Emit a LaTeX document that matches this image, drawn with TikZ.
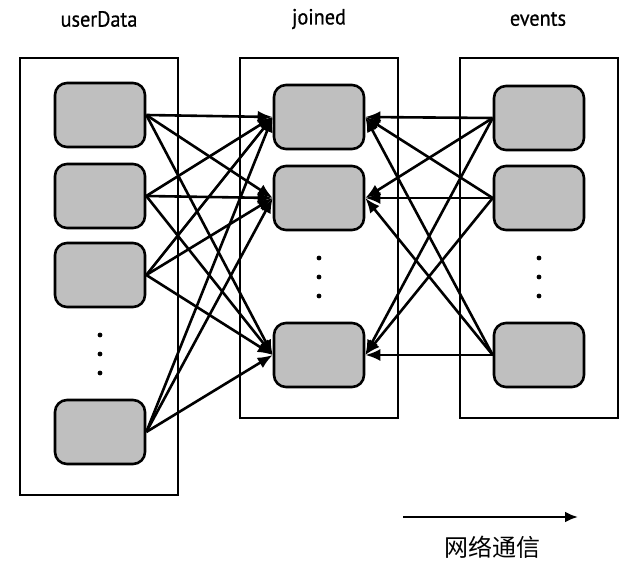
\documentclass[tikz,border=0pt]{standalone}
\usepackage{fontspec}
\setmainfont{PT Sans}[FakeStretch=0.92, FakeBold=0.7]
\newfontfamily\cjk{Noto Sans CJK SC}
\usetikzlibrary{arrows.meta}

\begin{document}
\begin{tikzpicture}[
                    x=1pt, y=-1pt,
                    every node/.style={font=\fontsize{22}{26}\selectfont},
                    part/.style={draw, line width=2.6pt, rounded corners=12pt, fill=black!25,
                        minimum width=90pt, minimum height=64pt, inner sep=0pt},
                    frame/.style={draw, line width=2.4pt},
                    link/.style={line width=2.6pt, -{Latex[length=15pt, width=12pt]}},
                    dot/.style={fill=black}
                ]
                \useasboundingbox (0,0) rectangle (642,572);

                % the three datasets
                \draw[frame] (20,58) rectangle (178,495);
                \draw[frame] (240,58) rectangle (398,418);
                \draw[frame] (460,58) rectangle (618,418);
                \node (userData) at (99,19) {userData};
                \node (joined) at (319,19) {joined};
                \node (events) at (538,19) {events};

                % partitions
                \node[part] (u1) at (100,115) {};
                \node[part] (u2) at (100,196) {};
                \node[part] (u3) at (100,275) {};
                \node[part] (u4) at (100,432) {};
                \node[part] (j1) at (319,117) {};
                \node[part] (j2) at (319,198) {};
                \node[part] (j3) at (319,355) {};
                \node[part] (e1) at (539,118) {};
                \node[part] (e2) at (539,198) {};
                \node[part] (e3) at (539,355) {};

                \foreach \y in {335,354,373} \fill[dot] (100,\y) circle (2.4pt);
                \foreach \y in {258,277,296} {
                    \fill[dot] (319,\y) circle (2.4pt);
                    \fill[dot] (539,\y) circle (2.4pt);
                }

                % shuffle of both sides
                \foreach \u in {u1,u2,u3,u4}
                    \foreach \j in {j1,j2,j3}
                        \draw[link] (\u.east) -- (\j.west);
                \foreach \e in {e1,e2,e3}
                    \foreach \j in {j1,j2,j3}
                        \draw[link] (\e.west) -- (\j.east);

                % legend
                \coordinate (netA) at (403,517);
                \coordinate (netB) at (578,517);
                \draw[line width=2.6pt, -{Latex[length=13pt, width=11pt]}] (netA) -- (netB);
                \node (net) at (492,547) {\cjk\fontsize{24}{28}\selectfont 网络通信};
            \end{tikzpicture}
\end{document}
